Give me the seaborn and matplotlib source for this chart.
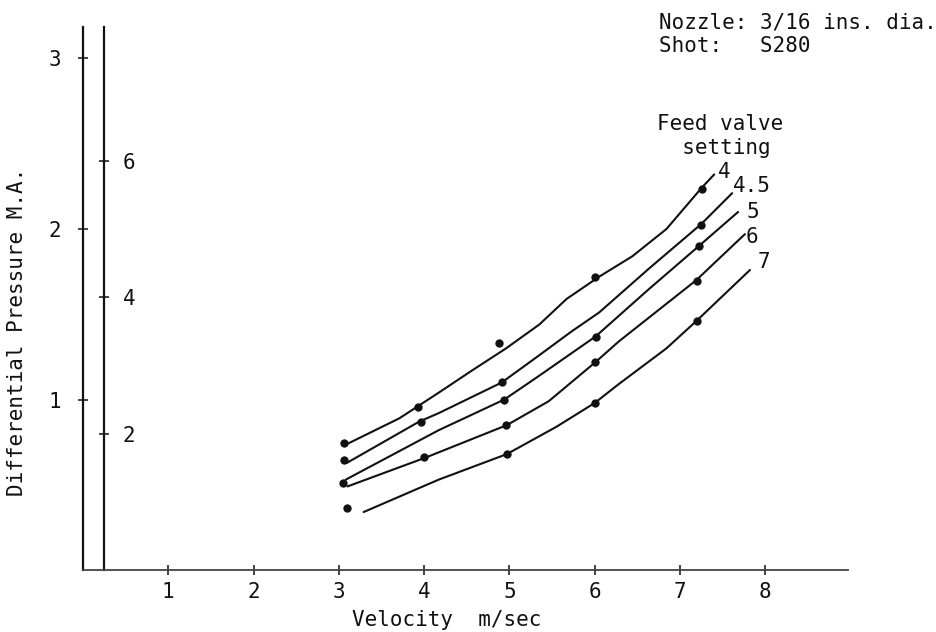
import matplotlib
matplotlib.use("Agg")
import matplotlib.pyplot as plt
import numpy as np
import pandas as pd
import seaborn as sns

# ---------------- data ----------------
settings = ["4", "4.5", "5", "6", "7"]

# measured points (velocity m/sec, differential pressure M.A.)
pts4_v = [3.06, 3.93, 4.88, 6.00, 7.26]
pts4_p = [0.745, 0.956, 1.331, 1.718, 2.235]
pts45_v = [3.06, 3.96, 4.91, 7.24]
pts45_p = [0.645, 0.868, 1.103, 2.023]
pts5_v = [3.05, 4.94, 6.01, 7.22]
pts5_p = [0.51, 0.997, 1.367, 1.900]
pts6_v = [4.00, 4.96, 6.00, 7.20]
pts6_p = [0.663, 0.850, 1.220, 1.695]
pts7_v = [3.09, 4.97, 6.00, 7.20]
pts7_p = [0.364, 0.680, 0.979, 1.460]

# hand-drawn curves
l4_v = [3.10, 3.71, 4.17, 4.56, 4.96, 5.35, 5.67, 6.05, 6.44, 6.84, 7.25, 7.40]
l4_p = [0.74, 0.89, 1.04, 1.17, 1.30, 1.44, 1.59, 1.72, 1.84, 2.00, 2.24, 2.32]
l45_v = [3.10, 3.94, 4.17, 4.91, 5.35, 5.73, 6.05, 6.64, 7.25, 7.61]
l45_p = [0.63, 0.87, 0.92, 1.10, 1.26, 1.40, 1.51, 1.77, 2.03, 2.21]
l5_v = [3.08, 4.17, 4.94, 5.35, 6.01, 6.64, 7.22, 7.68]
l5_p = [0.53, 0.82, 1.00, 1.14, 1.37, 1.65, 1.90, 2.10]
l6_v = [3.10, 4.02, 4.17, 4.97, 5.46, 6.01, 6.28, 7.19, 7.76]
l6_p = [0.49, 0.66, 0.69, 0.85, 0.99, 1.22, 1.34, 1.70, 1.97]
l7_v = [3.29, 4.17, 4.97, 5.55, 6.00, 6.28, 6.84, 7.19, 7.82]
l7_p = [0.34, 0.53, 0.68, 0.84, 0.98, 1.09, 1.30, 1.46, 1.76]

x_ticks = [1, 2, 3, 4, 5, 6, 7, 8]
y_ticks = [1, 2, 3]
y2_ticks = [2, 4, 6]
y2_factor = 2.5

x_label = "Velocity  m/sec"
y_label = "Differential Pressure M.A."
note_text = "Nozzle: 3/16 ins. dia.\nShot:   S280"
legend_title = "Feed valve\n  setting"

# ---------------- build tables ----------------
line_sets = [(l4_v, l4_p), (l45_v, l45_p), (l5_v, l5_p), (l6_v, l6_p), (l7_v, l7_p)]
pt_sets = [(pts4_v, pts4_p), (pts45_v, pts45_p), (pts5_v, pts5_p),
           (pts6_v, pts6_p), (pts7_v, pts7_p)]

lines_df = pd.concat([
    pd.DataFrame({"velocity": v, "pressure": p, "setting": s})
    for s, (v, p) in zip(settings, line_sets)
], ignore_index=True)
pts_df = pd.concat([
    pd.DataFrame({"velocity": v, "pressure": p, "setting": s})
    for s, (v, p) in zip(settings, pt_sets)
], ignore_index=True)

# ---------------- style ----------------
sns.set_theme(style="white")
plt.rcParams["font.family"] = ["DejaVu Sans Mono", "DejaVu Sans"]
ink = "#111111"
fs = 15

W, H = 937, 632
fig = plt.figure(figsize=(W / 100, H / 100), dpi=100)
ax_l, ax_r, ax_b, ax_t = 83, 848, 570, 27
px_per_v, px_per_p = 85.3, 170.5
ax = fig.add_axes([ax_l / W, 1 - ax_b / H, (ax_r - ax_l) / W, (ax_b - ax_t) / H])

pal = {s: ink for s in settings}
sns.lineplot(data=lines_df, x="velocity", y="pressure", hue="setting",
             units="setting", estimator=None, sort=False, palette=pal,
             linewidth=1.5, legend=False, ax=ax)
sns.scatterplot(data=pts_df, x="velocity", y="pressure", color=ink,
                s=36, edgecolor=ink, linewidth=0, legend=False, ax=ax, zorder=3)

ax.set_xlim(0, (ax_r - ax_l) / px_per_v)
ax.set_ylim(0, (ax_b - ax_t) / px_per_p)

for side in ["top", "right"]:
    ax.spines[side].set_visible(False)
ax.spines["left"].set_color(ink)
ax.spines["left"].set_linewidth(1.6)
ax.spines["bottom"].set_color("#444444")
ax.spines["bottom"].set_linewidth(1.3)

ax.set_xticks(x_ticks)
ax.set_yticks(y_ticks)
ax.tick_params(axis="both", direction="inout", length=7, width=1.1,
               colors=ink, labelsize=fs, left=True, bottom=True)
ax.tick_params(axis="y", pad=12)
ax.tick_params(axis="x", pad=5)

ax.set_xlabel(x_label, fontsize=fs, color=ink)
ax.xaxis.set_label_coords((447 - ax_l) / (ax_r - ax_l), -(620 - ax_b) / (ax_b - ax_t))
ax.xaxis.label.set_va("center")
ax.set_ylabel(y_label, fontsize=fs, color=ink)
ax.yaxis.set_label_coords(-(ax_l - 17) / (ax_r - ax_l), (ax_b - 332) / (ax_b - ax_t))
ax.yaxis.label.set_va("center")

# inner secondary scale
sec = ax.secondary_yaxis((104 - ax_l) / (ax_r - ax_l),
                         functions=(lambda p: p * y2_factor, lambda s: s / y2_factor))
sec.set_alignment("right")
sec.set_yticks(y2_ticks)
sec.spines["right"].set_color(ink)
sec.spines["right"].set_linewidth(1.6)
sec.tick_params(axis="y", direction="inout", length=7, width=1.1, colors=ink,
                labelsize=fs, pad=10)

# curve labels at the end of each curve (offsets in points)
label_offsets = [(3.0, 1.5), (0.5, 5.0), (6.0, 0.0), (0.5, -2.0), (5.5, 5.5)]
for s, (v, p), off in zip(settings, line_sets, label_offsets):
    ax.annotate(s, xy=(v[-1], p[-1]), xytext=off, textcoords="offset points",
                ha="left", va="center", fontsize=fs, color=ink)

fig.text(657 / W, 1 - 136 / H, legend_title, fontsize=fs, color=ink,
         ha="left", va="center", linespacing=1.3)
fig.text(659 / W, 1 - 34 / H, note_text, fontsize=fs, color=ink,
         ha="left", va="center", linespacing=1.25)

fig.savefig("out.png", dpi=100, facecolor="white")
